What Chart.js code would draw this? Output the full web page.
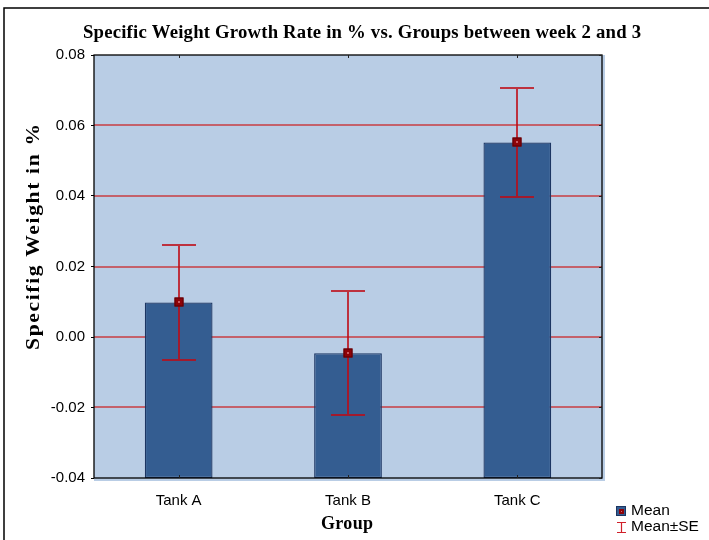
<!DOCTYPE html>
<html>
<head>
<meta charset="utf-8">
<script src="https://cdn.jsdelivr.net/npm/chart.js@4/dist/chart.umd.min.js"></script>
<style>
  html, body { margin: 0; padding: 0; background: #ffffff; }
  #wrap { width: 709px; height: 540px; position: relative; }
</style>
</head>
<body>
<div id="wrap"><canvas id="chart" width="709" height="540"></canvas></div>
<script>
// Groups and their mean specific weight growth rate with standard error
const groups = ['Tank A', 'Tank B', 'Tank C'];
const means = [0.0098, -0.0046, 0.0552];
const stdErrors = [0.0163, 0.0176, 0.0154];

// Value axis range and tick step
const yMin = -0.04;
const yMax = 0.08;
const yStep = 0.02;

const chartTitle = 'Specific Weight Growth Rate in % vs. Groups between week 2 and 3';
const yTitle = 'Specifig Weight in %';
const xTitle = 'Group';
const legendMean = 'Mean';
const legendSE = 'Mean\u00B1SE';

const PLOT_BG = '#b9cde5';
const BAR_FILL = '#345d91';
const BAR_EDGE = '#1c3562';
const GRID_RED = '#c83c42';
const ERR_RED = 'rgba(190, 10, 20, 0.8)';
const MARK_RED = '#8e0308';
const SERIF = '"Liberation Serif", "Times New Roman", serif';
const SANS = '"Liberation Sans", Arial, sans-serif';

// Draw text centred on x, widened along its baseline by a glyph stretch
// plus letter spacing so that it spans the given width
function spacedText(ctx, text, x, y, width, stretch) {
  ctx.save();
  ctx.translate(x, y);
  ctx.scale(stretch, 1);
  const target = width / stretch;
  ctx.letterSpacing = '0px';
  const w0 = ctx.measureText(text).width;
  const extra = (target - w0) / Math.max(1, text.length - 1);
  ctx.letterSpacing = extra + 'px';
  ctx.textAlign = 'left';
  ctx.fillText(text, -target / 2, 0);
  ctx.restore();
}

const decorations = {
  id: 'decorations',
  beforeDraw(chart) {
    const { ctx, chartArea: a } = chart;
    ctx.save();
    // plot background with a slight offset shade on the right and bottom
    ctx.fillStyle = PLOT_BG;
    ctx.fillRect(a.left, a.top, a.right - a.left + 3, a.bottom - a.top + 3);
    ctx.restore();
  },
  beforeDatasetsDraw(chart) {
    const { ctx, chartArea: a } = chart;
    const ys = chart.scales.y;
    ctx.save();
    // horizontal red grid lines at the inner ticks
    ctx.strokeStyle = GRID_RED;
    ctx.lineWidth = 1.5;
    ys.ticks.forEach(t => {
      if (Math.abs(t.value - yMin) < 1e-9 || Math.abs(t.value - yMax) < 1e-9) return;
      const py = Math.round(ys.getPixelForValue(t.value));
      ctx.beginPath();
      ctx.moveTo(a.left, py);
      ctx.lineTo(a.right, py);
      ctx.stroke();
    });
    ctx.restore();
  },
  afterDatasetsDraw(chart) {
    const { ctx, chartArea: a } = chart;
    const xs = chart.scales.x;
    const ys = chart.scales.y;
    ctx.save();

    // standard error whiskers
    ctx.strokeStyle = ERR_RED;
    ctx.lineWidth = 2;
    means.forEach((m, i) => {
      const cx = Math.round(xs.getPixelForValue(i));
      const top = Math.round(ys.getPixelForValue(m + stdErrors[i]));
      const bot = Math.round(ys.getPixelForValue(m - stdErrors[i]));
      ctx.beginPath();
      ctx.moveTo(cx, top);
      ctx.lineTo(cx, bot);
      ctx.moveTo(cx - 17, top);
      ctx.lineTo(cx + 17, top);
      ctx.moveTo(cx - 17, bot);
      ctx.lineTo(cx + 17, bot);
      ctx.stroke();
    });

    // mean markers
    means.forEach((m, i) => {
      const cx = Math.round(xs.getPixelForValue(i));
      const cy = Math.round(ys.getPixelForValue(m));
      ctx.fillStyle = MARK_RED;
      ctx.fillRect(cx - 4.5, cy - 4.5, 9, 9);
      ctx.strokeStyle = '#5e0004';
      ctx.lineWidth = 1;
      ctx.strokeRect(cx - 4, cy - 4, 8, 8);
      ctx.fillStyle = '#c85a60';
      ctx.fillRect(cx - 1, cy - 1, 2, 2);
    });

    // plot frame
    ctx.strokeStyle = '#000000';
    ctx.lineWidth = 1.3;
    ctx.strokeRect(a.left, a.top, a.right - a.left, a.bottom - a.top);

    // category ticks on the top and bottom edges
    ctx.lineWidth = 1;
    ctx.strokeStyle = '#222222';
    groups.forEach((g, i) => {
      const cx = Math.round(xs.getPixelForValue(i)) + 0.5;
      ctx.beginPath();
      ctx.moveTo(cx, a.top);
      ctx.lineTo(cx, a.top + 3);
      ctx.moveTo(cx, a.bottom);
      ctx.lineTo(cx, a.bottom - 3);
      ctx.stroke();
    });
    // value ticks on the right edge
    ys.ticks.forEach(t => {
      const py = Math.round(ys.getPixelForValue(t.value)) + 0.5;
      ctx.beginPath();
      ctx.moveTo(a.right, py);
      ctx.lineTo(a.right - 3, py);
      ctx.stroke();
    });
    ctx.restore();
  },
  afterDraw(chart) {
    const { ctx } = chart;
    ctx.save();
    ctx.fillStyle = '#000000';
    ctx.textBaseline = 'alphabetic';

    // main title
    ctx.font = 'bold 18px ' + SERIF;
    spacedText(ctx, chartTitle, 362, 38, 558, 1.04);

    // axis titles
    spacedText(ctx, xTitle, 347, 529, 52, 1.0);
    ctx.save();
    ctx.translate(39, 237);
    ctx.rotate(-Math.PI / 2);
    ctx.font = 'bold 18px ' + SERIF;
    spacedText(ctx, yTitle, 0, 0, 226, 1.2);
    ctx.restore();

    // legend
    ctx.fillStyle = BAR_FILL;
    ctx.fillRect(616, 506, 10, 10);
    ctx.strokeStyle = BAR_EDGE;
    ctx.lineWidth = 1;
    ctx.strokeRect(616.5, 506.5, 9, 9);
    ctx.fillStyle = MARK_RED;
    ctx.fillRect(619, 509, 5, 5);
    ctx.fillStyle = '#d06a70';
    ctx.fillRect(621, 511, 1, 1);

    ctx.strokeStyle = '#d0202a';
    ctx.lineWidth = 1.2;
    ctx.beginPath();
    ctx.moveTo(621.5, 522);
    ctx.lineTo(621.5, 533);
    ctx.moveTo(617, 522.5);
    ctx.lineTo(626, 522.5);
    ctx.moveTo(617, 532.5);
    ctx.lineTo(626, 532.5);
    ctx.stroke();

    ctx.fillStyle = '#000000';
    ctx.font = '15.5px ' + SANS;
    ctx.textAlign = 'left';
    ctx.textBaseline = 'middle';
    ctx.fillText(legendMean, 631, 511);
    ctx.fillText(legendSE, 631, 527);

    // outer frame
    ctx.strokeStyle = '#000000';
    ctx.lineWidth = 1.5;
    ctx.strokeRect(4, 8, 900, 900);
    ctx.restore();
  }
};

new Chart(document.getElementById('chart'), {
  type: 'bar',
  data: {
    labels: groups,
    datasets: [{
      label: legendMean,
      data: means.map(m => [yMin, m]),
      backgroundColor: BAR_FILL,
      borderColor: BAR_EDGE,
      borderWidth: 1.3,
      borderSkipped: false,
      barPercentage: 0.4,
      categoryPercentage: 1.0
    }]
  },
  plugins: [decorations],
  options: {
    responsive: false,
    animation: false,
    devicePixelRatio: 1,
    layout: { padding: { left: 0, top: 55, right: 107, bottom: 0 } },
    plugins: {
      legend: { display: false },
      title: { display: false },
      tooltip: { enabled: false }
    },
    scales: {
      x: {
        grid: { display: false },
        border: { display: false },
        ticks: {
          color: '#000000',
          font: { family: SANS, size: 15 },
          padding: 6
        },
        afterFit(scale) { scale.height = 62; }
      },
      y: {
        min: yMin,
        max: yMax,
        border: { display: false },
        grid: {
          drawOnChartArea: false,
          color: '#000000',
          tickColor: '#000000',
          tickLength: 3,
          lineWidth: 1
        },
        ticks: {
          stepSize: yStep,
          color: '#000000',
          font: { family: SANS, size: 15 },
          padding: 6,
          callback: v => Number(v).toFixed(2)
        },
        afterFit(scale) { scale.width = 94; }
      }
    }
  }
});
</script>
</body>
</html>
